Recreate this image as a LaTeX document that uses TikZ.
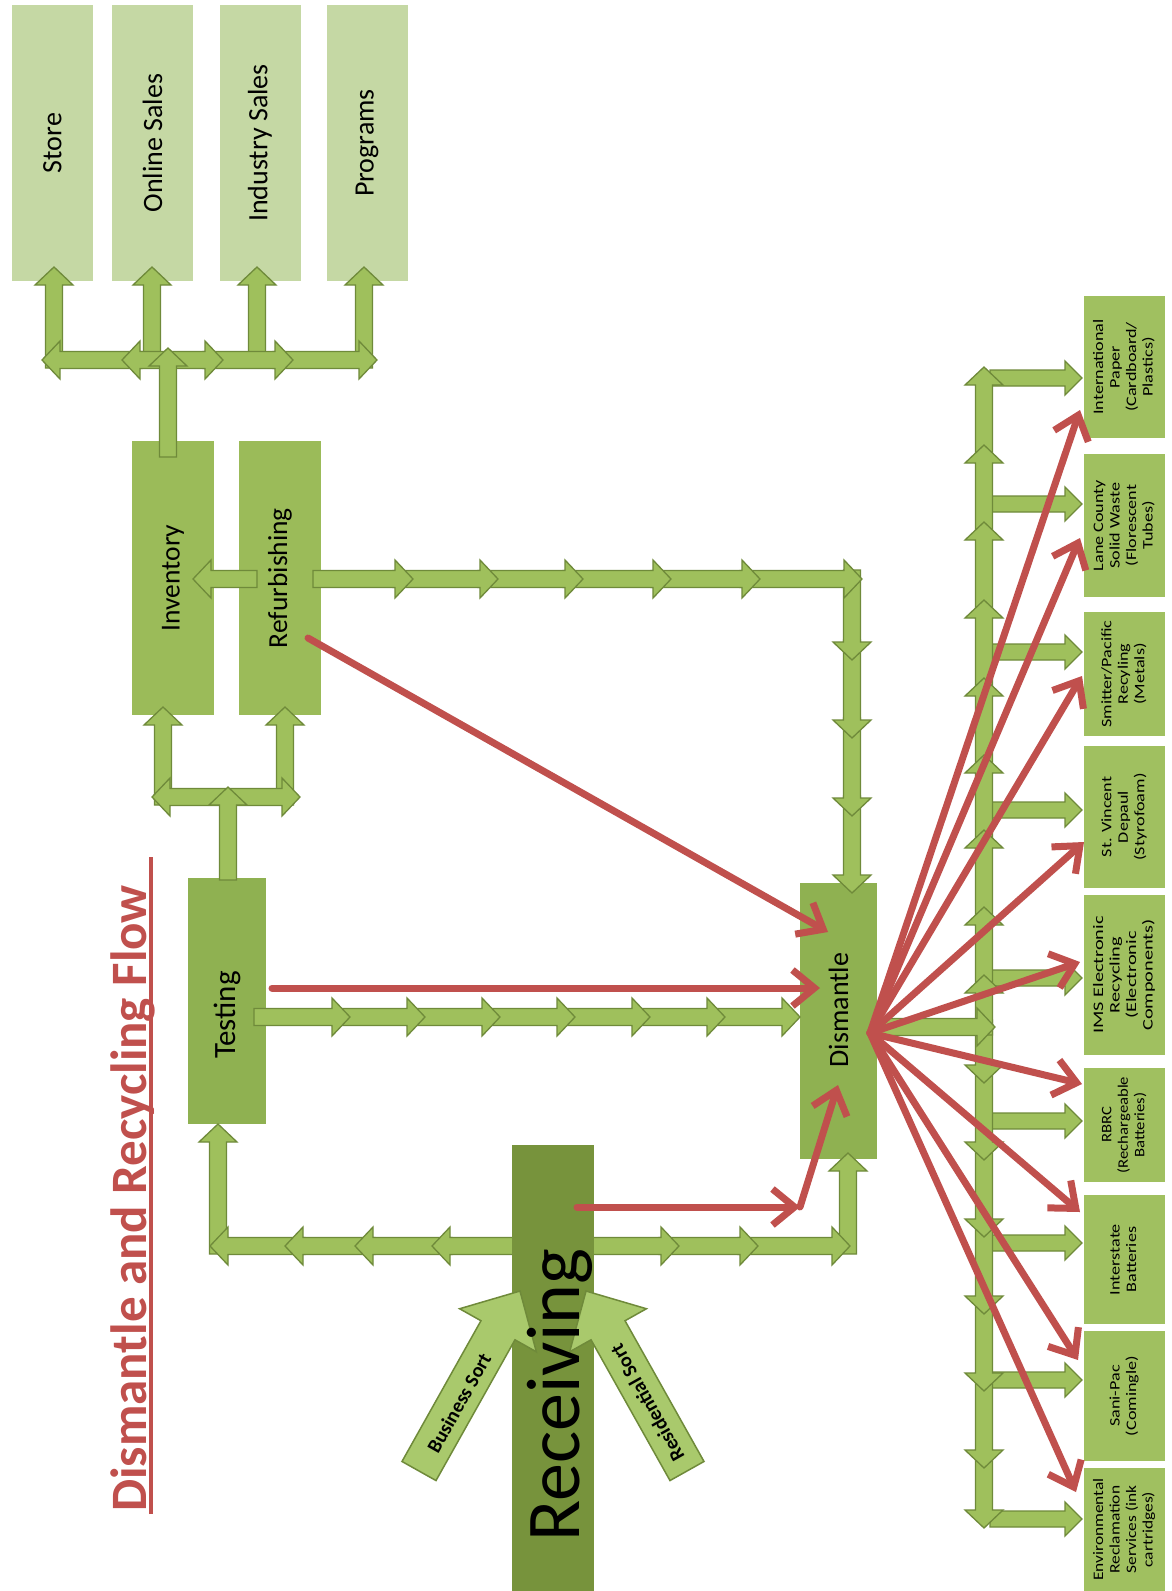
\documentclass[tikz,border=0pt]{standalone}
\usepackage{fontspec}
\setmainfont{Carlito}
\usetikzlibrary{arrows.meta}
\definecolor{pale}{HTML}{C5D8A4}
\definecolor{midg}{HTML}{9BBB59}
\definecolor{testg}{HTML}{8FB151}
\definecolor{recg}{HTML}{77933C}
\definecolor{rboxg}{HTML}{A0C060}
\definecolor{arrf}{HTML}{9FC05C}
\definecolor{arrd}{HTML}{6F8A3A}
\definecolor{sortf}{HTML}{A9C96C}
\definecolor{redc}{HTML}{C0504D}
\tikzset{
  garrow/.style={fill=arrf, draw=arrd, line width=1.3pt, line join=miter},
  sortarrow/.style={fill=sortf, draw=arrd, line width=1.5pt},
  topbox/.style={fill=pale, minimum width=81pt, minimum height=276pt, inner sep=0pt, font=\fontsize{28}{32}\selectfont},
  midbox/.style={fill=midg, minimum width=82pt, minimum height=274pt, inner sep=0pt, font=\fontsize{27.5}{32}\selectfont},
  tbox/.style={fill=testg, inner sep=0pt, font=\fontsize{28}{32}\selectfont},
  rbox/.style={fill=rboxg, minimum width=81pt, inner sep=0pt, font=\fontsize{14.5}{16.5}\selectfont},
  redarr/.style={draw=redc, line width=7pt, line cap=round, -{Straight Barb[length=22pt,width=36pt]}},
}
\def\sw{8.5}\def\hw{19}\def\hl{18}
% block arrow from (x1,y1) to (x2,y2), pixel coords
\newcommand\barr[5][]{%
  \pgfmathsetmacro\bang{atan2(-(#5)+(#3),(#4)-(#2))}%
  \pgfmathsetmacro\blen{veclen((#4)-(#2),(#5)-(#3))}%
  \begin{scope}[shift={(#2,#3)},rotate=\bang]
    \filldraw[garrow,#1] (0,-\sw) -- ({\blen-\hl},-\sw) -- ({\blen-\hl},-\hw) -- (\blen,0)
      -- ({\blen-\hl},\hw) -- ({\blen-\hl},\sw) -- (0,\sw) -- cycle;
  \end{scope}}
\newcommand\rt[2][1.25]{\rotatebox{90}{\scalebox{#1}[1]{\begin{tabular}{@{}c@{}}#2\end{tabular}}}}
\begin{document}
\begin{tikzpicture}[x=1pt,y=-1pt]
\fill[white] (0,0) rectangle (1171,1591);
\useasboundingbox (0,0) rectangle (1171,1591);

% ---- boxes
\node[topbox] (store) at (52.5,143) {\rotatebox{90}{Store}};
\node[topbox] (online) at (152.5,143) {\rotatebox{90}{Online Sales}};
\node[topbox] (industry) at (260,143) {\rotatebox{90}{Industry Sales}};
\node[topbox] (programs) at (367,143) {\rotatebox{90}{Programs}};
\node[midbox] (inventory) at (173,578) {\rotatebox{90}{Inventory}};
\node[midbox] (refurb) at (280,578) {\rotatebox{90}{Refurbishing}};
\node[tbox, minimum width=78pt, minimum height=246pt, font=\fontsize{31}{34}\selectfont] (testing) at (227,1001) {\rotatebox{90}{Testing\hspace{28pt}}};
\node[tbox, minimum width=77pt, minimum height=276pt] (dismantle) at (838.5,1021) {\rotatebox{90}{\hspace{22pt}Dismantle}};

\node[rbox, minimum height=142pt] (r1) at (1124.5,367) {\rt{International\\Paper\\(Cardboard/\\Plastics)}};
\node[rbox, minimum height=143pt] (r2) at (1124.5,525.5) {\rt{Lane County\\Solid Waste\\(Florescent\\Tubes)}};
\node[rbox, minimum height=124pt] (r3) at (1124.5,674) {\rt{Smitter/Pacific\\Recyling\\(Metals)}};
\node[rbox, minimum height=142pt] (r4) at (1124.5,817) {\rt{St. Vincent\\Depaul\\(Styrofoam)}};
\node[rbox, minimum height=160pt] (r5) at (1124.5,975) {\rt[1.4]{IMS Electronic\\Recycling\\(Electronic\\Components)}};
\node[rbox, minimum height=114pt] (r6) at (1124.5,1125) {\rt[1.15]{RBRC\\(Rechargeable\\Batteries)}};
\node[rbox, minimum height=129pt] (r7) at (1124.5,1259.5) {\rt{Interstate\\Batteries}};
\node[rbox, minimum height=130pt] (r8) at (1124.5,1396) {\rt{Sani-Pac\\(Comingle)}};
\node[rbox, minimum height=123pt] (r9) at (1124.5,1529.5) {\rt[1.2]{Environmental\\Reclamation\\Services (ink\\cartridges)}};

% ---- top green arrows
\barr{54}{368}{54}{267}
\barr{152}{368}{152}{267}
\barr{257}{368}{257}{267}
\barr{364}{368}{364}{267}
\barr{142}{360}{42}{360}
\barr{168}{360}{122}{360}
\barr{273}{360}{377}{360}
\barr{203}{360}{293}{360}
\barr{168}{360}{223}{360}
\barr{168}{457}{168}{348}

% ---- testing -> inventory / refurbishing
\barr{163}{805}{163}{707}
\barr{285}{805}{285}{707}
\barr{228}{797}{152}{797}
\barr{228}{797}{300}{797}
\barr{228}{880}{228}{787}
\barr{257}{579}{193}{579}

% ---- refurbishing -> dismantle chain
\barr{852}{796}{852}{893}
\barr{852}{718}{852}{816}
\barr{852}{640}{852}{738}
\barr{852}{570}{852}{660}
\barr{740}{579}{862}{579}
\barr{651}{579}{760}{579}
\barr{563}{579}{671}{579}
\barr{478}{579}{583}{579}
\barr{393}{579}{498}{579}
\barr{313}{579}{413}{579}

% ---- testing -> dismantle chain
\barr{707}{1017}{800}{1017}
\barr{632}{1017}{725}{1017}
\barr{557}{1017}{650}{1017}
\barr{482}{1017}{575}{1017}
\barr{407}{1017}{500}{1017}
\barr{332}{1017}{425}{1017}
\barr{254}{1017}{350}{1017}

% ---- receiving bus
\barr{218}{1254}{218}{1124}
\barr{848}{1254}{848}{1153}
\barr{305}{1246}{210}{1246}
\barr{375}{1246}{285}{1246}
\barr{452}{1246}{355}{1246}
\barr{530}{1246}{432}{1246}
\barr{738}{1246}{850}{1246}
\barr{659}{1246}{758}{1246}
\barr{580}{1246}{679}{1246}

% ---- right bus
\begingroup\def\sw{8}\def\hw{17}\def\hl{17}
\foreach \yy in {378,504,652,810,978,1121,1243,1380,1519}{\barr{990}{\yy}{1082}{\yy}}
\endgroup
\barr{984}{1450}{984}{1528}
\barr{984}{1373}{984}{1468}
\barr{984}{1296}{984}{1391}
\barr{984}{1219}{984}{1314}
\barr{984}{1142}{984}{1237}
\barr{984}{1065}{984}{1160}
\barr{984}{1020}{984}{1083}
\barr{984}{463}{984}{367}
\barr{984}{540}{984}{445}
\barr{984}{618}{984}{522}
\barr{984}{696}{984}{600}
\barr{984}{773}{984}{678}
\barr{984}{848}{984}{755}
\barr{984}{925}{984}{830}
\barr{984}{993}{984}{907}
\barr{984}{1035}{984}{975}
\barr{877}{1027}{995}{1027}

% ---- receiving
\node[fill=recg, minimum width=82pt, minimum height=446pt, inner sep=0pt] (receiving) at (553,1368) {};
\begingroup\def\sw{19.5}\def\hw{44}\def\hl{45}
\barr[sortarrow]{419}{1471}{520}{1291}
\barr[sortarrow]{687}{1471}{586}{1291}
\endgroup
\node[rotate=60.7, font=\fontsize{20}{24}\selectfont\bfseries] (bsort) at (459,1403) {Business Sort};
\node[rotate=119.3, font=\fontsize{20}{24}\selectfont\bfseries] (rsort) at (647,1403) {Residential Sort};
\node[rotate=90, anchor=base, font=\fontsize{76}{80}\selectfont, inner sep=0pt] (rectext) at (579,1395) {Receiving};

% ---- title
\node[rotate=90, anchor=base west, inner sep=0pt, text=redc, font=\fontsize{51}{60}\selectfont\bfseries] (title) at (146,1512) {Dismantle and Recycling Flow};
\coordinate (ulA) at (151,1514);
\coordinate (ulB) at (151,857);
\draw[redc, line width=3.5pt] (ulA) -- (ulB);

% ---- red arrows
\coordinate (fan) at (870,1033);
\coordinate (rfs) at (308,638);
\coordinate (rfe) at (828,932);
\coordinate (tss) at (272,988);
\coordinate (tse) at (820,988);
\coordinate (rcs) at (577,1207);
\coordinate (rcm) at (800,1207);
\coordinate (rce) at (838,1085);
\draw[redarr] (rfs) -- (rfe);
\draw[redarr] (tss) -- (tse);
\draw[redarr] (rcs) -- (rcm);
\draw[redarr] (rcm) -- (rce);
\coordinate (t1) at (1080,410);
\coordinate (t2) at (1080,538);
\coordinate (t3) at (1082,676);
\coordinate (t4) at (1084,842);
\coordinate (t5) at (1080,962);
\coordinate (t6) at (1082,1084);
\coordinate (t7) at (1080,1212);
\coordinate (t8) at (1078,1360);
\coordinate (t9) at (1076,1492);
\foreach \t in {t1,t2,t3,t4,t5,t6,t7,t8,t9}{\draw[redarr] (fan) -- (\t);}
\end{tikzpicture}
\end{document}
